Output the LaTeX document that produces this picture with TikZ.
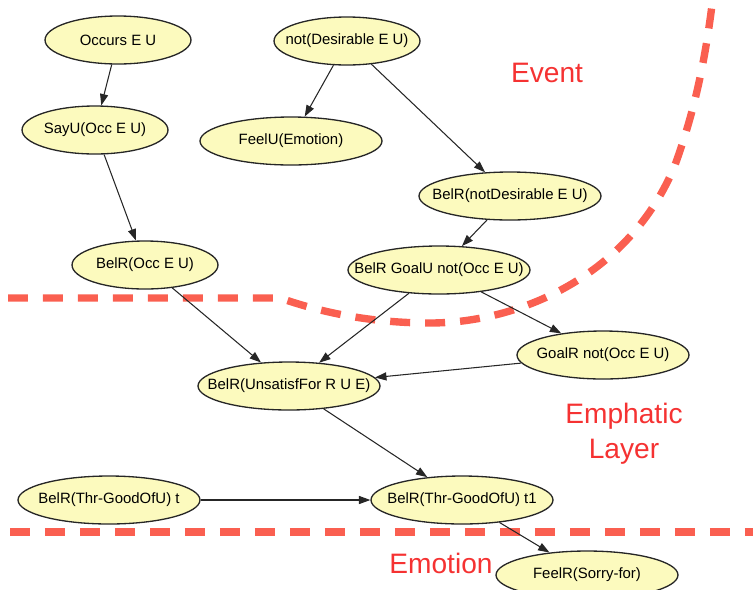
\documentclass[tikz,border=0pt]{standalone}
\usepackage{fontspec}
\setmainfont{Liberation Sans}
\usetikzlibrary{arrows.meta,shapes.geometric}
\definecolor{nodefill}{RGB}{252,250,190}
\definecolor{layerline}{RGB}{250,95,80}
\definecolor{layertext}{RGB}{245,50,50}

\begin{document}
\begin{tikzpicture}[x=0.02cm, y=-0.02cm,
		fact/.style={ellipse, draw=black!85, line width=0.75pt, fill=nodefill, minimum width=3.64cm, minimum height=0.96cm, inner xsep=-0.6cm, inner ysep=0pt, font=\fontsize{8.5}{10}\selectfont},
		narrow/.style={minimum width=2.92cm},
		link/.style={-{Triangle[length=6.5pt,width=4.6pt]}, line width=0.6pt, draw=black!85},
		border/.style={draw=layerline, line width=4.2pt, dash pattern=on 0.4cm off 0.3cm},
		layername/.style={text=layertext, font=\fontsize{16}{20}\selectfont, align=center}]
			%%%%% START %%%%%
			\useasboundingbox (0, 0) rectangle (753, 589);
			
			% layer borders
			\draw[border] (8, 298) -- (280, 298) .. controls (320, 312) and (370, 323) .. (430, 323) .. controls (520, 323) and (630, 275) .. (675, 165) .. controls (695, 110) and (705, 60) .. (712, 5);
			\draw[border] (10, 532) -- (753, 532);
			
			\node[layername] (event) at (547, 73) {Event};
			\node[layername] (emphatic) at (624, 434) {Emphatic\\Layer};
			\node[layername] (emotion) at (441, 563) {Emotion};
			
			% nodes
			\node[fact, narrow] (occurs) at (118, 40) {Occurs E U};
			\node[fact, narrow] (notdes) at (347, 41) {not(Desirable E U)};
			\node[fact, narrow] (sayu) at (95, 130) {SayU(Occ E U)};
			\node[fact] (feelu) at (291, 141) {FeelU(Emotion)};
			\node[fact] (belnotdes) at (510, 196) {BelR(notDesirable E U)};
			\node[fact, narrow] (belocc) at (145, 265) {BelR(Occ E U)};
			\node[fact] (belgoal) at (439, 270) {BelR GoalU not(Occ E U)};
			\node[fact, minimum width=3.44cm] (goalr) at (603, 355) {GoalR not(Occ E U)};
			\node[fact] (unsat) at (289, 386) {BelR(UnsatisfFor R U E)};
			\node[fact] (thrt) at (109, 500) {BelR(Thr-GoodOfU) t};
			\node[fact] (thrtone) at (462, 500) {BelR(Thr-GoodOfU) t1};
			\node[fact] (sorry) at (587, 575) {FeelR(Sorry-for)};
			
			% edges
			\draw[link] (occurs) -- (sayu);
			\draw[link] (sayu) -- (belocc);
			\draw[link] (notdes) -- (feelu);
			\draw[link] (notdes) -- (belnotdes);
			\draw[link] (belnotdes) -- (belgoal);
			\draw[link] (belocc) -- (unsat);
			\draw[link] (belgoal) -- (unsat);
			\draw[link] (belgoal) -- (goalr);
			\draw[link] (goalr) -- (unsat);
			\draw[link] (unsat) -- (thrtone);
			\draw[link] (thrt) -- (thrtone);
			\draw[link] (thrtone) -- (sorry);
			
			%%%%% END %%%%%
		\end{tikzpicture}
\end{document}
